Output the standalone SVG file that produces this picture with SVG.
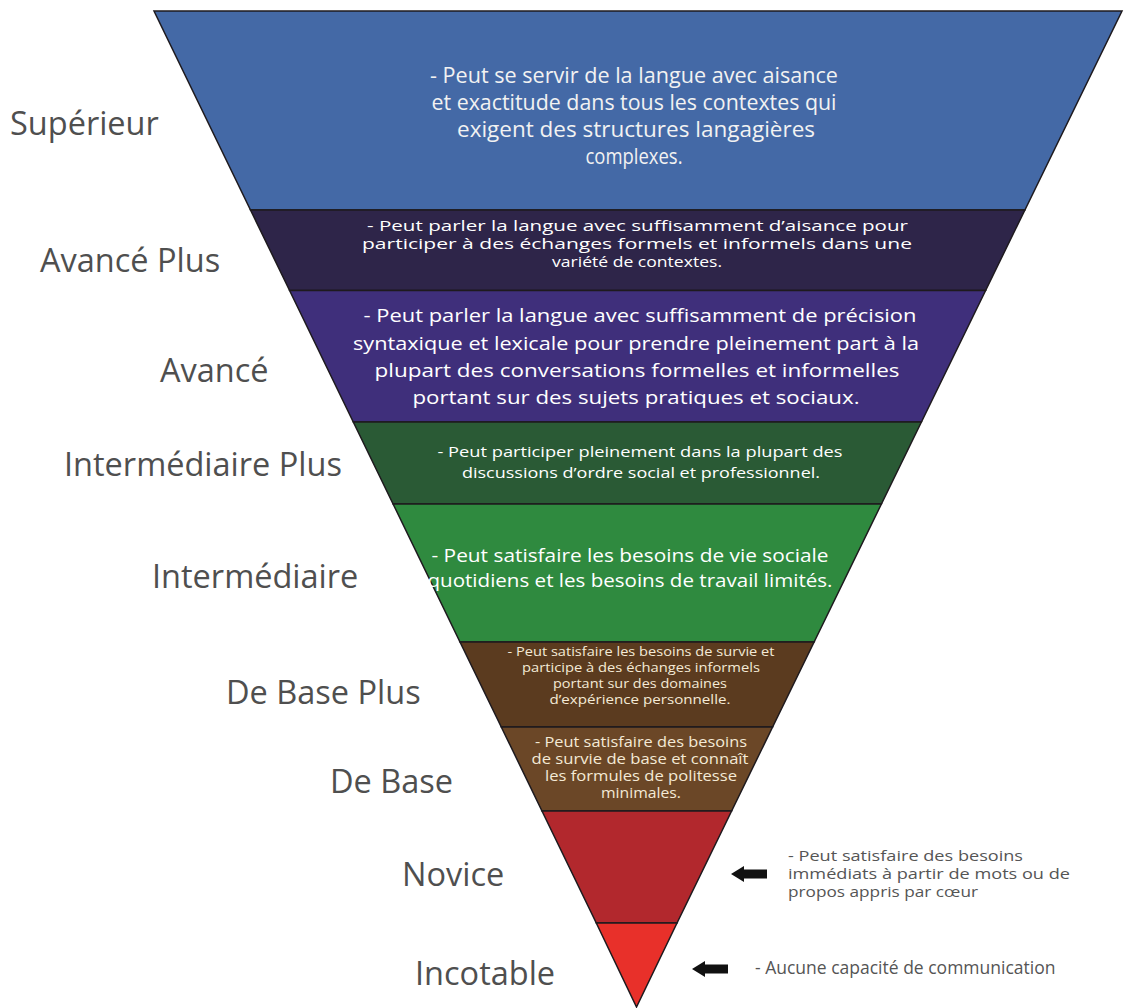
<svg xmlns="http://www.w3.org/2000/svg" xmlns:xlink="http://www.w3.org/1999/xlink" width="1124" height="1008" viewBox="0 0 1124 1008">
<style>
  .band { stroke: #1e1a1e; stroke-width: 1.5; stroke-linejoin: miter; }
  .lbl { font-family: "Open Sans", "Liberation Sans", sans-serif; font-size: 32.5px; fill: #4f4f4f; }
  .t { font-family: "Open Sans", "Liberation Sans", sans-serif; fill: #ffffff; text-anchor: middle; }
  .cond { font-size: 21px; fill: #f2f2f2; }
  .cream { fill: #f4ead6; }
  .side { font-family: "Open Sans", "Liberation Sans", sans-serif; font-size: 15px; fill: #555555; }
  .side2 { font-family: "Open Sans", "Liberation Sans", sans-serif; font-size: 17.5px; fill: #555555; }
  .arrow { fill: #111111; }
</style>
<defs>
  <path id="blockArrow" d="M0,0 L13,-8 L13,-4.5 L36,-4.5 L36,4.5 L13,4.5 L13,8 Z"/>
</defs>
<rect width="1124" height="1008" fill="#ffffff"/>

<g id="superieur">
  <polygon class="band" fill="#4469a6" points="154,11 1122,11 1024.9,210 250.5,210"/>
  <text class="t cond" x="634" y="83" textLength="408" lengthAdjust="spacingAndGlyphs">- Peut se servir de la langue avec aisance</text>
  <text class="t cond" x="634" y="110" textLength="405" lengthAdjust="spacingAndGlyphs">et exactitude dans tous les contextes qui</text>
  <text class="t cond" x="636" y="137" textLength="358" lengthAdjust="spacingAndGlyphs">exigent des structures langagières</text>
  <text class="t cond" x="634" y="164" textLength="97" lengthAdjust="spacingAndGlyphs">complexes.</text>
  <text class="lbl" x="10" y="135">Supérieur</text>
</g>

<g id="avance-plus">
  <polygon class="band" fill="#2e2549" points="250.5,210 1024.9,210 985.6,290.5 289.6,290.5"/>
  <text class="t" font-size="15" x="637.5" y="231" textLength="541" lengthAdjust="spacingAndGlyphs">- Peut parler la langue avec suffisamment d’aisance pour</text>
  <text class="t" font-size="15" x="637" y="249" textLength="550" lengthAdjust="spacingAndGlyphs">participer à des échanges formels et informels dans une</text>
  <text class="t" font-size="15" x="637" y="267" textLength="170" lengthAdjust="spacingAndGlyphs">variété de contextes.</text>
  <text class="lbl" x="40" y="272">Avancé Plus</text>
</g>

<g id="avance">
  <polygon class="band" fill="#3f2f7b" points="289.6,290.5 985.6,290.5 921.4,422 353.3,422"/>
  <text class="t" font-size="19" x="640" y="322" textLength="553" lengthAdjust="spacingAndGlyphs">- Peut parler la langue avec suffisamment de précision</text>
  <text class="t" font-size="19" x="636" y="350" textLength="566" lengthAdjust="spacingAndGlyphs">syntaxique et lexicale pour prendre pleinement part à la</text>
  <text class="t" font-size="19" x="637" y="377" textLength="525" lengthAdjust="spacingAndGlyphs">plupart des conversations formelles et informelles</text>
  <text class="t" font-size="19" x="636" y="404" textLength="447" lengthAdjust="spacingAndGlyphs">portant sur des sujets pratiques et sociaux.</text>
  <text class="lbl" x="160" y="382">Avancé</text>
</g>

<g id="intermediaire-plus">
  <polygon class="band" fill="#2a5a35" points="353.3,422 921.4,422 881.4,504 393.1,504"/>
  <text class="t" font-size="15" x="640" y="457" textLength="405" lengthAdjust="spacingAndGlyphs">- Peut participer pleinement dans la plupart des</text>
  <text class="t" font-size="15" x="641" y="478" textLength="358" lengthAdjust="spacingAndGlyphs">discussions d’ordre social et professionnel.</text>
  <text class="lbl" x="64" y="476">Intermédiaire Plus</text>
</g>

<g id="intermediaire">
  <polygon class="band" fill="#2f8a3f" points="393.1,504 881.4,504 814.1,642 460,642"/>
  <text class="t" font-size="18.5" x="630" y="562" textLength="397" lengthAdjust="spacingAndGlyphs" fill="#eef4e6">-  Peut satisfaire les besoins de vie sociale</text>
  <text class="t" font-size="18.5" x="630" y="587" textLength="405" lengthAdjust="spacingAndGlyphs" fill="#eef4e6">quotidiens et les besoins de travail limités.</text>
  <text class="lbl" x="152" y="588">Intermédiaire</text>
</g>

<g id="de-base-plus">
  <polygon class="band" fill="#5b3b1f" points="460,642 814.1,642 772.6,727 501.3,727"/>
  <text class="t cream" font-size="13.3" x="641" y="656" textLength="267" lengthAdjust="spacingAndGlyphs">- Peut satisfaire les besoins de survie et</text>
  <text class="t cream" font-size="13.3" x="641" y="672" textLength="238" lengthAdjust="spacingAndGlyphs">participe à des échanges informels</text>
  <text class="t cream" font-size="13.3" x="640" y="688" textLength="174" lengthAdjust="spacingAndGlyphs">portant sur des domaines</text>
  <text class="t cream" font-size="13.3" x="640" y="704" textLength="181" lengthAdjust="spacingAndGlyphs">d’expérience personnelle.</text>
  <text class="lbl" x="226" y="704">De Base Plus</text>
</g>

<g id="de-base">
  <polygon class="band" fill="#6b4727" points="501.3,727 772.6,727 731.6,811 542,811"/>
  <text class="t cream" font-size="14" x="641" y="747" textLength="212" lengthAdjust="spacingAndGlyphs">- Peut satisfaire des besoins</text>
  <text class="t cream" font-size="14" x="640" y="764" textLength="217" lengthAdjust="spacingAndGlyphs">de survie de base et connaît</text>
  <text class="t cream" font-size="14" x="641" y="781" textLength="192" lengthAdjust="spacingAndGlyphs">les formules de politesse</text>
  <text class="t cream" font-size="14" x="641" y="798" textLength="80" lengthAdjust="spacingAndGlyphs">minimales.</text>
  <text class="lbl" x="330" y="793">De Base</text>
</g>

<g id="novice">
  <polygon class="band" fill="#b2282d" points="542,811 731.6,811 677,923 596.3,923"/>
  <text class="lbl" x="402" y="886">Novice</text>
  <text class="side" x="788" y="861" textLength="235" lengthAdjust="spacingAndGlyphs">-  Peut satisfaire des besoins</text>
  <text class="side" x="788" y="879" textLength="282" lengthAdjust="spacingAndGlyphs">immédiats à partir de mots ou de</text>
  <text class="side" x="788" y="897" textLength="190" lengthAdjust="spacingAndGlyphs">propos appris par cœur</text>
</g>

<g id="incotable">
  <polygon class="band" fill="#e8302a" points="596.3,923 677,923 636.5,1007"/>
  <text class="lbl" x="415" y="985">Incotable</text>
  <text class="side2" x="755" y="974">- Aucune capacité de communication</text>
</g>

<g id="connectors">
  <use xlink:href="#blockArrow" href="#blockArrow" class="arrow" transform="translate(731,874)"/>
  <use xlink:href="#blockArrow" href="#blockArrow" class="arrow" transform="translate(692,969)"/>
</g>
</svg>
